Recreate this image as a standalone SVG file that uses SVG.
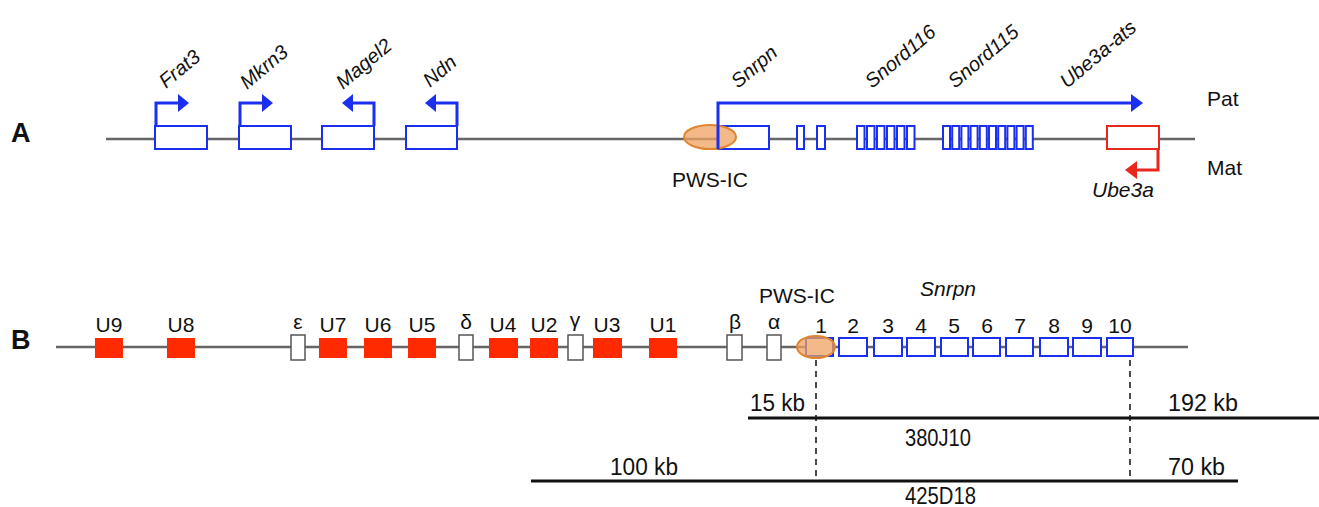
<svg xmlns="http://www.w3.org/2000/svg" width="1319" height="507" viewBox="0 0 1319 507">
  <defs>
    <style>
      .bb { stroke: #666; stroke-width: 2.5; fill: none; }
      .exon { fill: #fff; stroke: #1a2ff0; stroke-width: 2; }
      .mexon { fill: #fff; stroke: #e8281c; stroke-width: 2; }
      .red { fill: #ff2a00; stroke: none; }
      .wbox { fill: #fff; stroke: #555; stroke-width: 1.5; }
      .parr { fill: none; stroke: #1a2ff0; stroke-width: 3; }
      .marr { fill: none; stroke: #e8281c; stroke-width: 3; }
      .bhead { fill: #1a2ff0; }
      .rhead { fill: #e8281c; }
      .ic { fill: #f0a262; fill-opacity: 0.75; stroke: #e08530; stroke-width: 2; }
      .t { font-family: "Liberation Sans", Arial, sans-serif; font-size: 21px; fill: #111; }
      .rt { font-size: 20px; }
      .ct { font-size: 23px; }
      .it { font-style: italic; }
      .panel { font-family: "Liberation Sans", Arial, sans-serif; font-size: 27px; font-weight: bold; fill: #111; }
      .clone { stroke: #111; stroke-width: 3; }
      .dash { stroke: #111; stroke-width: 1.5; stroke-dasharray: 6 5; fill: none; }
    </style>
  </defs>

  <!-- Panel A -->
  <text class="panel" x="11" y="142">A</text>
  <g id="a-backbone"><line class="bb" x1="106" y1="139" x2="1195" y2="139"/></g>

  <g id="frat3">
    <rect class="exon" x="155" y="126" width="52" height="23"/>
    <polyline class="parr" points="156,126 156,103 179,103"/>
    <polygon class="bhead" points="178,94 189,103 178,112"/>
    <text class="t rt it" transform="translate(166,89) rotate(-40)">Frat3</text>
  </g>
  <g id="mkrn3">
    <rect class="exon" x="239" y="126" width="52" height="23"/>
    <polyline class="parr" points="240,126 240,103 263,103"/>
    <polygon class="bhead" points="262,94 273,103 262,112"/>
    <text class="t rt it" transform="translate(247,90) rotate(-40)">Mkrn3</text>
  </g>
  <g id="magel2">
    <rect class="exon" x="322" y="126" width="52" height="23"/>
    <polyline class="parr" points="374,126 374,103 352,103"/>
    <polygon class="bhead" points="353,94 342,103 353,112"/>
    <text class="t rt it" transform="translate(343,90) rotate(-40)">Magel2</text>
  </g>
  <g id="ndn">
    <rect class="exon" x="406" y="126" width="51" height="23"/>
    <polyline class="parr" points="457,126 457,103 435,103"/>
    <polygon class="bhead" points="436,94 425,103 436,112"/>
    <text class="t rt it" transform="translate(430,88) rotate(-40)">Ndn</text>
  </g>

  <g id="snrpn-a">
    <rect class="exon" x="718" y="126" width="51" height="23"/>
    <rect class="exon" x="797" y="126" width="7" height="23"/>
    <rect class="exon" x="817" y="126" width="8" height="23"/>
    <text class="t rt it" transform="translate(738,89) rotate(-40)">Snrpn</text>
  </g>

  <g id="pws-ic-a">
    <ellipse class="ic" cx="710" cy="137" rx="26" ry="12"/>
    <text class="t" x="672" y="187">PWS-IC</text>
  </g>

  <g id="snord116">
    <rect class="exon" x="857" y="126" width="7.5" height="23"/>
    <rect class="exon" x="867" y="126" width="7.5" height="23"/>
    <rect class="exon" x="877" y="126" width="7.5" height="23"/>
    <rect class="exon" x="887" y="126" width="7.5" height="23"/>
    <rect class="exon" x="897" y="126" width="7.5" height="23"/>
    <rect class="exon" x="907" y="126" width="7.5" height="23"/>
    <text class="t rt it" transform="translate(872,89) rotate(-40)">Snord116</text>
  </g>

  <g id="snord115">
    <rect class="exon" x="943" y="126" width="7" height="23"/>
    <rect class="exon" x="952.2" y="126" width="7" height="23"/>
    <rect class="exon" x="961.4" y="126" width="7" height="23"/>
    <rect class="exon" x="970.6" y="126" width="7" height="23"/>
    <rect class="exon" x="979.8" y="126" width="7" height="23"/>
    <rect class="exon" x="989" y="126" width="7" height="23"/>
    <rect class="exon" x="998.2" y="126" width="7" height="23"/>
    <rect class="exon" x="1007.4" y="126" width="7" height="23"/>
    <rect class="exon" x="1016.6" y="126" width="7" height="23"/>
    <rect class="exon" x="1025.8" y="126" width="7" height="23"/>
    <text class="t rt it" transform="translate(955,89) rotate(-40)">Snord115</text>
  </g>

  <g id="ube3a-ats">
    <text class="t rt it" transform="translate(1067,89) rotate(-40)">Ube3a-ats</text>
  </g>

  <g id="ube3a">
    <rect class="mexon" x="1107" y="126" width="52" height="23"/>
    <text class="t it" x="1092" y="197">Ube3a</text>
  </g>

  <text class="t" x="1207" y="106">Pat</text>
  <text class="t" x="1207" y="175">Mat</text>

  <!-- Panel A connectors: transcript arrows -->
  <g id="a-connectors">
    <polyline class="parr" points="718,149 718,103 1132,103"/>
    <polygon class="bhead" points="1131,94 1143,103 1131,112"/>
    <polyline class="marr" points="1158,148 1158,170 1136,170"/>
    <polygon class="rhead" points="1137,161 1125,170 1137,179"/>
  </g>

  <!-- Panel B -->
  <text class="panel" x="11" y="349">B</text>
  <g id="b-backbone"><line class="bb" x1="56" y1="347" x2="1188" y2="347"/></g>

  <g id="u9"><rect class="red" x="95" y="338" width="28" height="20"/><text class="t" x="109" y="332" text-anchor="middle">U9</text></g>
  <g id="u8"><rect class="red" x="167" y="338" width="28" height="20"/><text class="t" x="181" y="332" text-anchor="middle">U8</text></g>
  <g id="epsilon"><rect class="wbox" x="291" y="335" width="14" height="25"/><text class="t" x="298" y="329" text-anchor="middle">ε</text></g>
  <g id="u7"><rect class="red" x="319" y="338" width="28" height="20"/><text class="t" x="333" y="332" text-anchor="middle">U7</text></g>
  <g id="u6"><rect class="red" x="364" y="338" width="28" height="20"/><text class="t" x="378" y="332" text-anchor="middle">U6</text></g>
  <g id="u5"><rect class="red" x="408" y="338" width="28" height="20"/><text class="t" x="422" y="332" text-anchor="middle">U5</text></g>
  <g id="delta"><rect class="wbox" x="459" y="335" width="14" height="25"/><text class="t" x="466" y="329" text-anchor="middle">δ</text></g>
  <g id="u4"><rect class="red" x="489" y="338" width="29" height="20"/><text class="t" x="503" y="332" text-anchor="middle">U4</text></g>
  <g id="u2"><rect class="red" x="530" y="338" width="28" height="20"/><text class="t" x="544" y="332" text-anchor="middle">U2</text></g>
  <g id="gamma"><rect class="wbox" x="568" y="335" width="15" height="25"/><text class="t" x="575" y="327" text-anchor="middle">γ</text></g>
  <g id="u3"><rect class="red" x="593" y="338" width="29" height="20"/><text class="t" x="607" y="332" text-anchor="middle">U3</text></g>
  <g id="u1"><rect class="red" x="649" y="338" width="28" height="20"/><text class="t" x="663" y="332" text-anchor="middle">U1</text></g>
  <g id="beta"><rect class="wbox" x="727" y="335" width="15" height="25"/><text class="t" x="735" y="329" text-anchor="middle">β</text></g>
  <g id="alpha"><rect class="wbox" x="767" y="335" width="14" height="25"/><text class="t" x="774" y="329" text-anchor="middle">α</text></g>

  <g id="snrpn-exons">
    <rect class="exon" x="806" y="338" width="27" height="18"/>
    <rect class="exon" x="839" y="338" width="28" height="18"/>
    <rect class="exon" x="874" y="338" width="28" height="18"/>
    <rect class="exon" x="907" y="338" width="28" height="18"/>
    <rect class="exon" x="941" y="338" width="27" height="18"/>
    <rect class="exon" x="973" y="338" width="27" height="18"/>
    <rect class="exon" x="1006" y="338" width="27" height="18"/>
    <rect class="exon" x="1040" y="338" width="28" height="18"/>
    <rect class="exon" x="1073" y="338" width="28" height="18"/>
    <rect class="exon" x="1107" y="338" width="26" height="18"/>
    <text class="t" x="821" y="333" text-anchor="middle">1</text>
    <text class="t" x="853" y="333" text-anchor="middle">2</text>
    <text class="t" x="888" y="333" text-anchor="middle">3</text>
    <text class="t" x="921" y="333" text-anchor="middle">4</text>
    <text class="t" x="954" y="333" text-anchor="middle">5</text>
    <text class="t" x="987" y="333" text-anchor="middle">6</text>
    <text class="t" x="1020" y="333" text-anchor="middle">7</text>
    <text class="t" x="1054" y="333" text-anchor="middle">8</text>
    <text class="t" x="1087" y="333" text-anchor="middle">9</text>
    <text class="t" x="1120" y="333" text-anchor="middle">10</text>
    <text class="t it" x="920" y="296">Snrpn</text>
  </g>

  <g id="pws-ic-b">
    <ellipse class="ic" cx="816" cy="347" rx="19" ry="11"/>
    <text class="t" x="759" y="303">PWS-IC</text>
  </g>

  <!-- Panel B connectors: dashed guides and BAC clones -->
  <g id="b-connectors">
    <line class="dash" x1="816" y1="360" x2="816" y2="478"/>
    <line class="dash" x1="1130" y1="360" x2="1130" y2="478"/>
    <line class="clone" x1="748" y1="418" x2="1319" y2="418"/>
    <line class="clone" x1="531" y1="481" x2="1238" y2="481"/>
  </g>

  <g id="clone-380J10">
    <text class="t ct" x="750" y="411" textLength="55" lengthAdjust="spacingAndGlyphs">15 kb</text>
    <text class="t ct" x="1168" y="411" textLength="70" lengthAdjust="spacingAndGlyphs">192 kb</text>
    <text class="t ct" x="905" y="446" textLength="66" lengthAdjust="spacingAndGlyphs">380J10</text>
  </g>
  <g id="clone-425D18">
    <text class="t ct" x="610" y="475" textLength="68" lengthAdjust="spacingAndGlyphs">100 kb</text>
    <text class="t ct" x="1168" y="475" textLength="57" lengthAdjust="spacingAndGlyphs">70 kb</text>
    <text class="t ct" x="905" y="504" textLength="71" lengthAdjust="spacingAndGlyphs">425D18</text>
  </g>
</svg>
